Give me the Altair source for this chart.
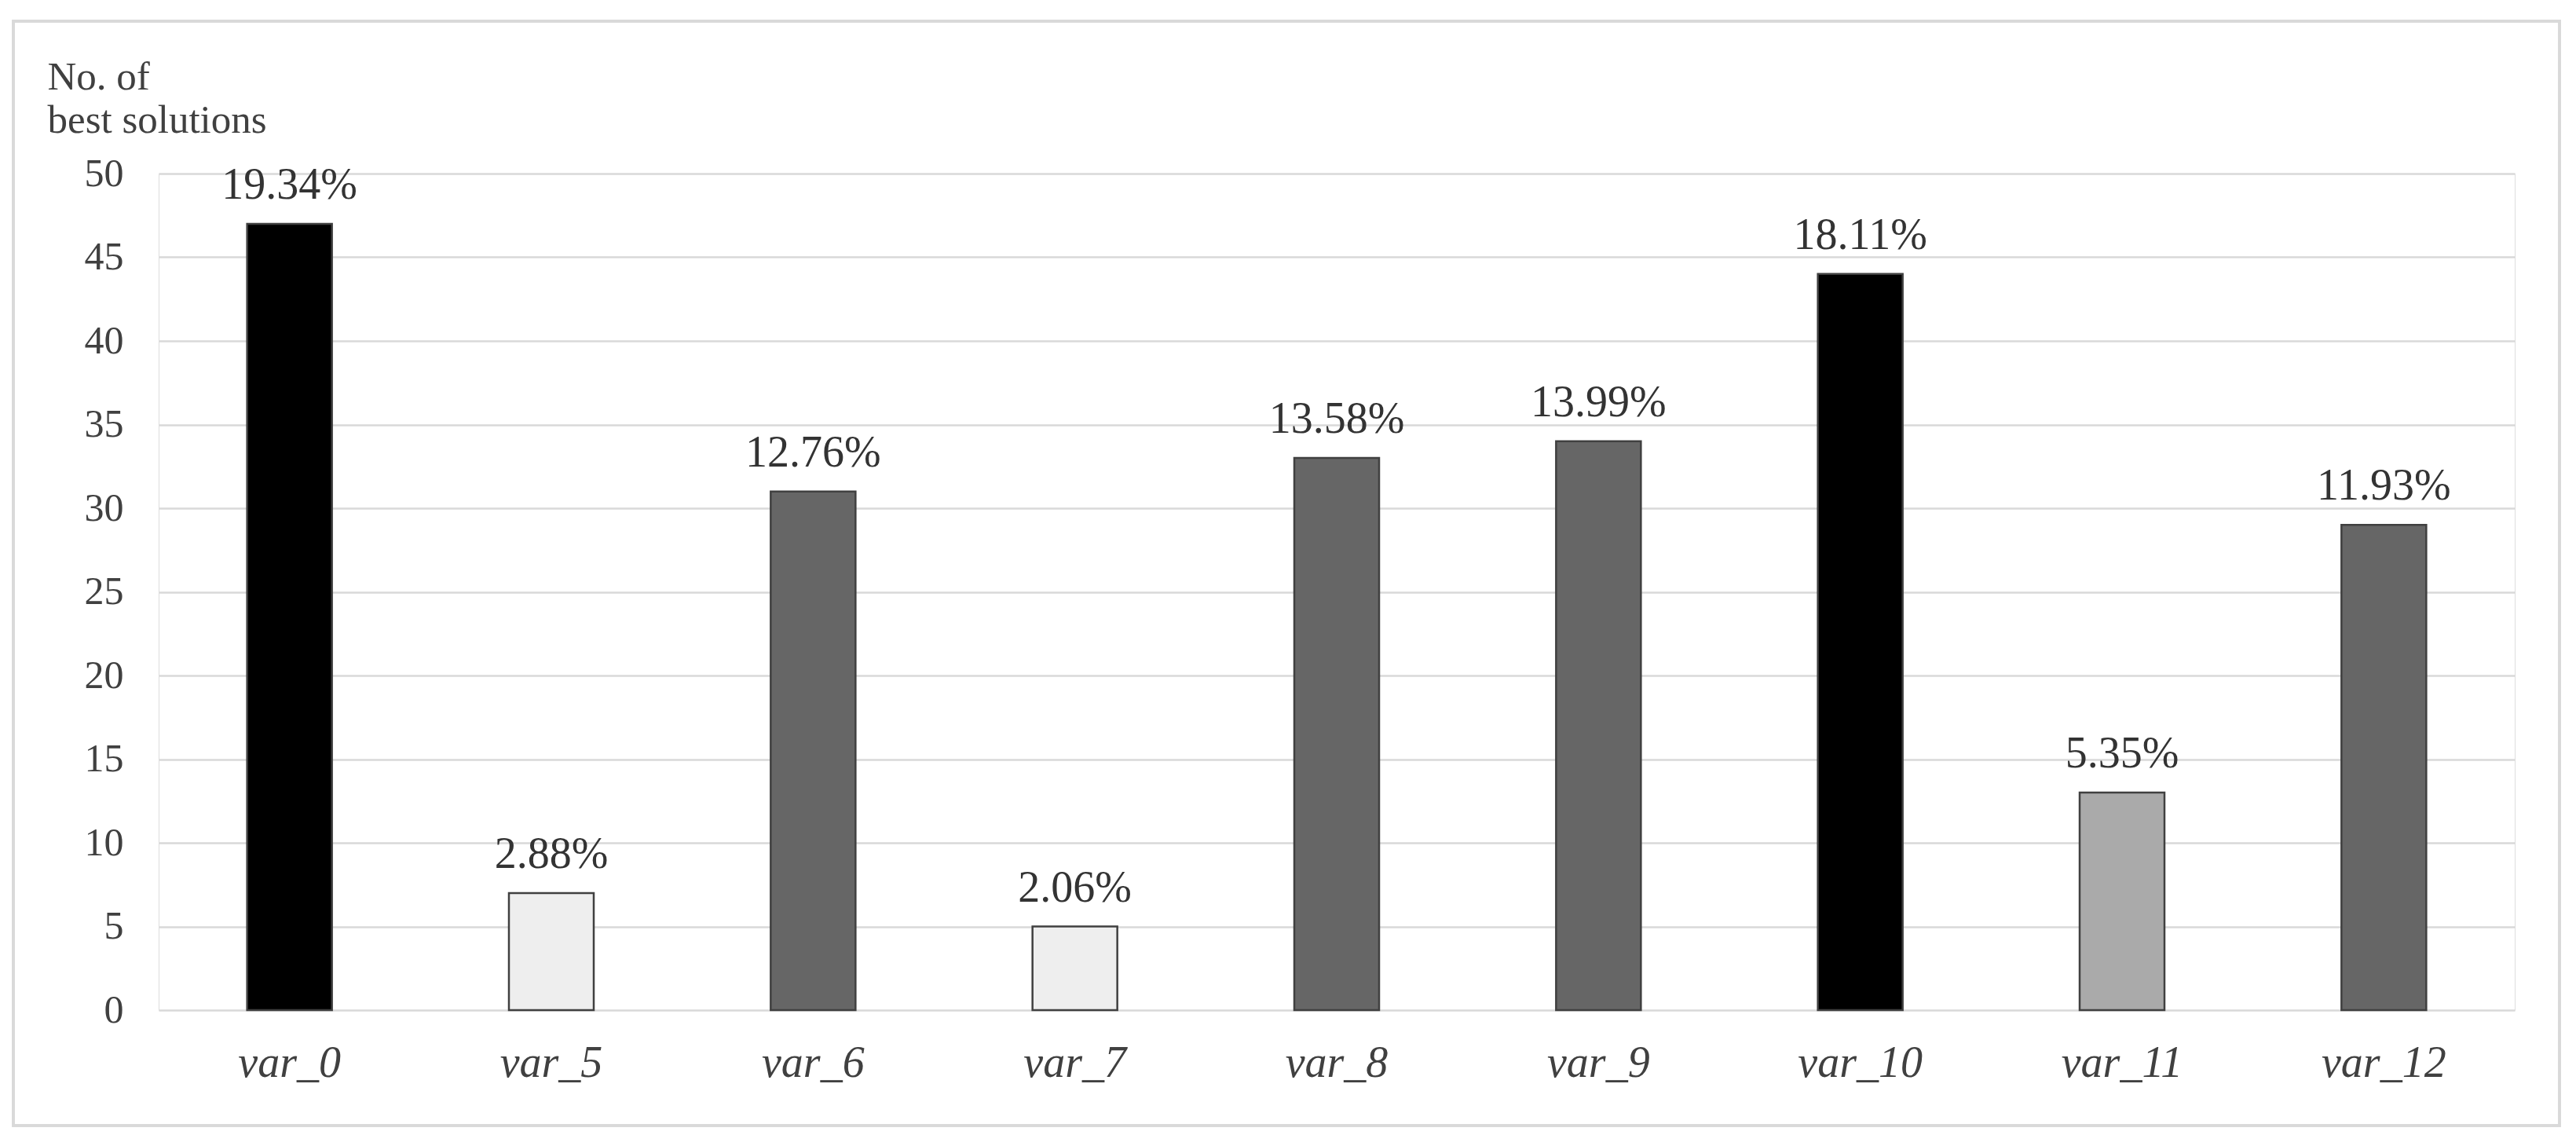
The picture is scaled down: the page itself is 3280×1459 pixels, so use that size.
import altair as alt
import pandas as pd

categories = ["var_0", "var_5", "var_6", "var_7", "var_8", "var_9", "var_10", "var_11", "var_12"]
best_counts = [47, 7, 31, 5, 33, 34, 44, 13, 29]
share_labels = ["19.34%", "2.88%", "12.76%", "2.06%", "13.58%", "13.99%", "18.11%", "5.35%", "11.93%"]
y_ticks = [0, 5, 10, 15, 20, 25, 30, 35, 40, 45, 50]

# fill shade per category (styling)
shade = {
    "var_0": "#000000", "var_5": "#eeeeee", "var_6": "#666666", "var_7": "#eeeeee",
    "var_8": "#666666", "var_9": "#666666", "var_10": "#000000", "var_11": "#aaaaaa",
    "var_12": "#666666",
}

df = pd.DataFrame({"cat": categories, "count": best_counts, "label": share_labels})

FONT = "Liberation Serif"
TXT = "#404040"

x = alt.X(
    "cat:N",
    sort=categories,
    scale=alt.Scale(paddingInner=0.676, paddingOuter=0.338),
    axis=alt.Axis(
        title=None, labelAngle=0, labelFont=FONT, labelFontSize=56, labelFontStyle="italic",
        labelColor=TXT, labelPadding=40, labelBaseline="top", ticks=False, domain=False, grid=False,
    ),
)
y = alt.Y(
    "count:Q",
    scale=alt.Scale(domain=[0, 50], nice=False),
    axis=alt.Axis(
        values=y_ticks, title=["No. of", "best solutions"], titleAngle=0, titleFont=FONT,
        titleFontSize=51, titleFontWeight="normal", titleColor=TXT, titleAlign="left",
        titleBaseline="alphabetic", titleX=-142, titleY=-108, titleLineHeight=55,
        labelFont=FONT, labelFontSize=50, labelColor=TXT, labelPadding=45, ticks=False,
        domain=False, grid=True, gridColor="#d9d9d9", gridWidth=2.5,
    ),
)

bars = alt.Chart(df).mark_bar(stroke="#404040", strokeWidth=2.5).encode(
    x=x,
    y=y,
    fill=alt.Fill("cat:N", scale=alt.Scale(domain=list(shade.keys()), range=list(shade.values())), legend=None),
)

labels = alt.Chart(df).mark_text(
    font=FONT, fontSize=56, color="#333333", baseline="alphabetic", align="center", dy=-32
).encode(x=alt.X("cat:N", sort=categories), y="count:Q", text="label:N")

frame = alt.Chart(df).mark_rect(fill=None, stroke="#d9d9d9", strokeWidth=3).encode(
    x=alt.value(-185), x2=alt.value(3057), y=alt.value(-194), y2=alt.value(1212)
)

chart = alt.layer(frame, bars, labels).properties(
    width=3000, height=1065,
    autosize=alt.AutoSizeParams(type="none"),
    padding={"left": 194, "top": 213, "right": 60, "bottom": 160},
).configure_view(stroke=None).configure(background="white")

chart.save("out.html", embed_options={"renderer": "svg", "actions": False})
